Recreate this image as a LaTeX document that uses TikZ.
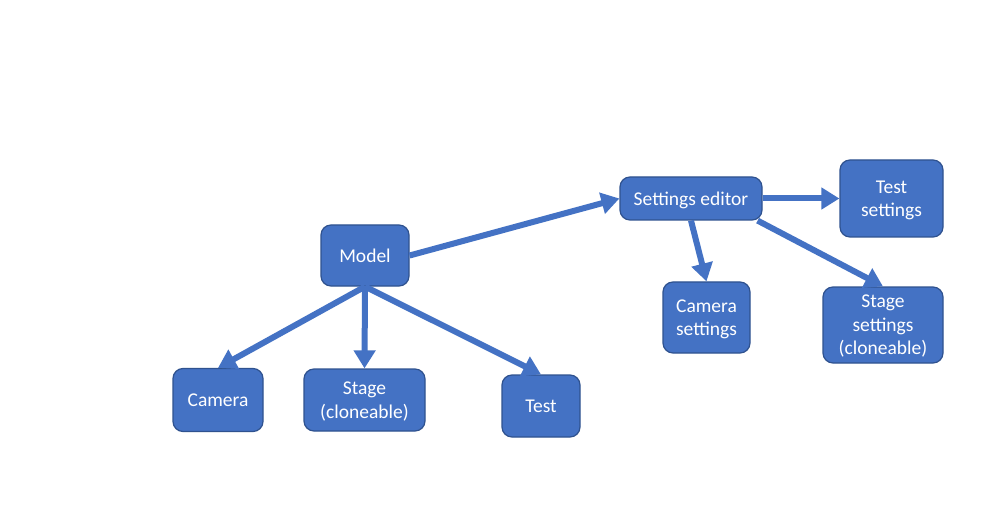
\documentclass[tikz,border=0pt]{standalone}
\usepackage{fontspec}
\setmainfont{Carlito}
\usetikzlibrary{arrows.meta,calc}
\definecolor{boxfill}{HTML}{4472C4}
\definecolor{boxdraw}{HTML}{2F528F}
\begin{document}
\begin{tikzpicture}[x=1pt,y=-1pt,
  box/.style={draw=boxdraw,line width=1.2pt,fill=boxfill,rounded corners=10pt,text=white,
    font=\fontsize{19.5}{23.5}\selectfont,align=center,inner sep=0pt,text depth=0pt},
  conn/.style={draw=boxfill,line width=6pt,-{Triangle[length=18pt,width=21pt]}}]
\useasboundingbox[fill=white] (0,0) rectangle (999,513);
\node[box,minimum width=88pt,minimum height=61pt] (model) at (365,255.5) {Model};
\node[box,minimum width=90pt,minimum height=63pt] (camera) at (218,400) {Camera};
\node[box,minimum width=121pt,minimum height=62pt] (stage) at (364.5,400) {Stage\\(cloneable)};
\node[box,minimum width=78pt,minimum height=62pt] (test) at (541,406) {Test};
\node[box,minimum width=142pt,minimum height=43pt] (se) at (691,198.5) {Settings editor};
\node[box,minimum width=103pt,minimum height=77pt] (ts) at (891.5,198.5) {Test\\settings};
\node[box,minimum width=87pt,minimum height=71pt] (cs) at (706.5,317.5) {Camera\\settings};
\node[box,minimum width=120pt,minimum height=76pt] (ss) at (883,325) {Stage\\settings\\(cloneable)};
\draw[conn] (model.south) -- (camera.north);
\draw[conn] (model.south) -- (stage.north);
\draw[conn] (model.south) -- (test.north);
\draw[conn] (model.east) -- (se.west);
\draw[conn] (se.east) -- (ts.west);
\draw[conn] (se.south) -- (cs.north);
\draw[conn] ($(se.south east)+(-5,0)$) -- (ss.north);
\end{tikzpicture}
\end{document}
